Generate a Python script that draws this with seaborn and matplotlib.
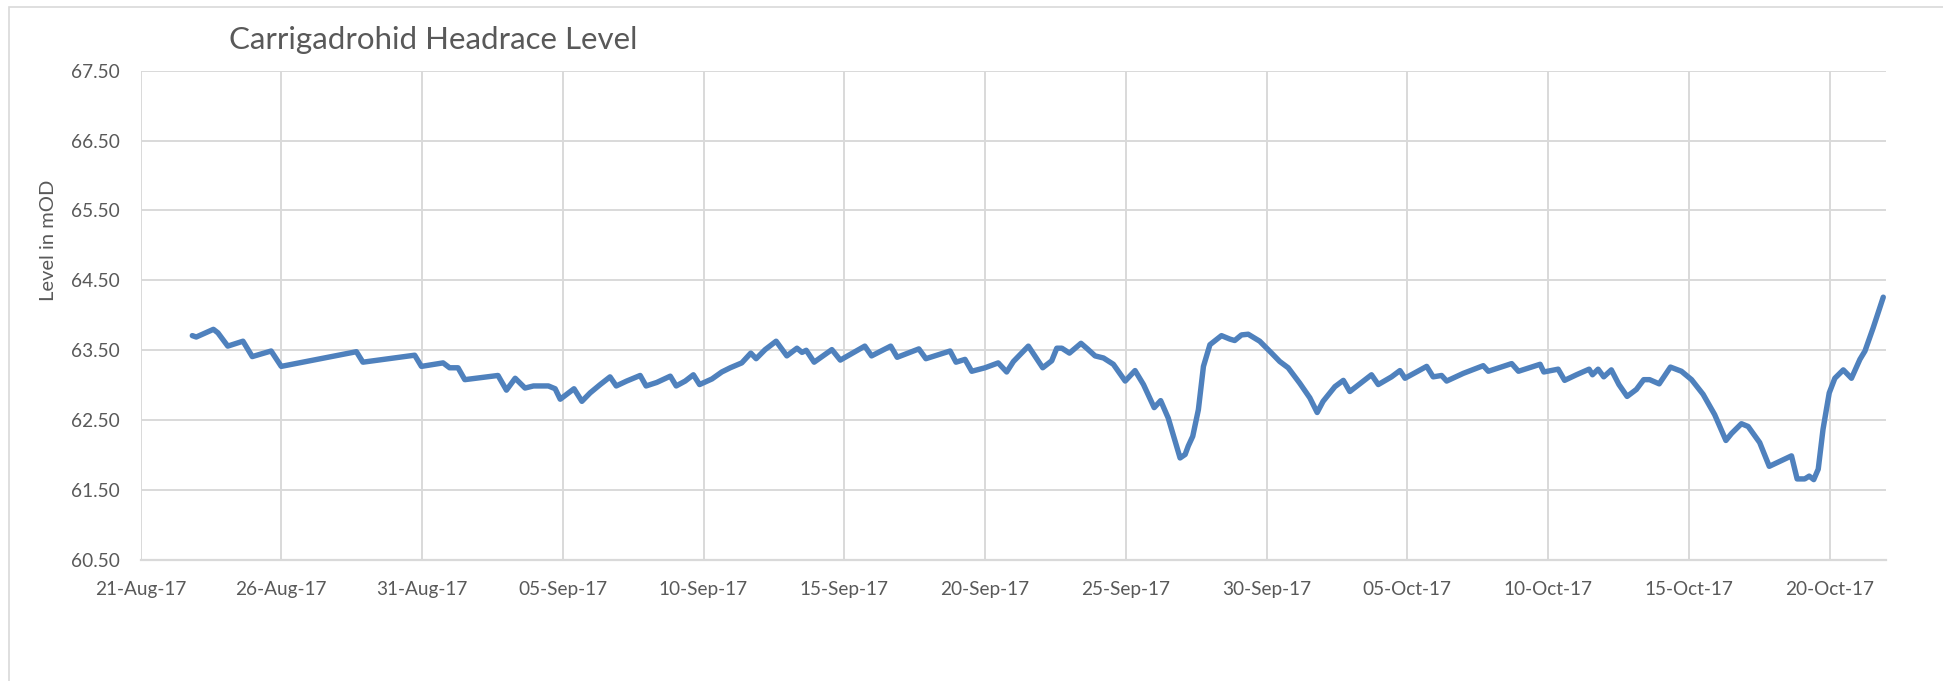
import pandas as pd
import matplotlib
matplotlib.use("Agg")
import matplotlib.pyplot as plt
import matplotlib.dates as mdates
from matplotlib.patches import Rectangle
from matplotlib.ticker import FixedLocator, FormatStrFormatter
import seaborn as sns

# Headrace level readings: time in days after 21-Aug-2017, level in mOD
start_date = pd.Timestamp("2017-08-21")
elapsed_days = [
    1.84, 1.98, 2.59, 2.75, 3.10, 3.64, 3.97, 4.64, 5.00, 7.67, 7.90, 9.74,
    9.98, 10.75, 10.98, 11.28, 11.52, 12.70,
    13.00, 13.31, 13.66, 13.96, 14.49, 14.73, 14.91, 15.40, 15.68, 15.97,
    16.33, 16.68, 16.90, 17.27, 17.75, 17.96, 18.34, 18.82, 19.03, 19.35,
    19.64, 19.86, 20.30, 20.65, 20.95, 21.36, 21.68, 21.87, 22.19, 22.58,
    22.96, 23.32, 23.50, 23.65, 23.93, 24.56, 24.86,
    25.73, 25.97, 26.65, 26.88, 27.65, 27.90, 28.76, 28.97, 29.29, 29.53,
    30.00, 30.47, 30.77, 31.01, 31.54, 32.05, 32.37, 32.55, 32.73, 33.00,
    33.41, 33.64, 33.91, 34.21, 34.56, 34.98, 35.33, 35.63, 36.01, 36.24,
    36.51, 36.93, 37.11, 37.22, 37.38, 37.58, 37.76, 37.99,
    38.40, 38.70, 38.87, 39.11, 39.35, 39.76, 40.18, 40.47, 40.77, 41.18,
    41.54, 41.80, 42.01, 42.43, 42.73, 42.96, 43.73, 43.97, 44.44, 44.74,
    44.92, 45.69, 45.92, 46.22, 46.40, 46.99, 47.70, 47.88, 48.71, 48.95,
    49.72,
    49.85, 50.36, 50.59, 51.01, 51.46, 51.58, 51.78, 51.98, 52.25, 52.52,
    52.81, 53.14, 53.40, 53.61, 53.95, 54.35, 54.74, 55.10, 55.51, 55.92,
    56.32, 56.52, 56.87, 57.11, 57.52, 57.86, 58.23, 58.65, 58.85, 59.12,
    59.28, 59.44, 59.60, 59.77, 59.99, 60.19, 60.49, 60.78, 61.08, 61.26,
    61.55, 61.91,
]
level_mod = [
    63.71, 63.69, 63.80, 63.75, 63.56, 63.63, 63.41, 63.49, 63.27, 63.48, 63.33, 63.43,
    63.27, 63.32, 63.25, 63.25, 63.08, 63.14,
    62.93, 63.10, 62.96, 62.99, 62.99, 62.95, 62.80, 62.95, 62.77, 62.89,
    63.01, 63.12, 62.99, 63.06, 63.14, 62.99, 63.04, 63.13, 62.99, 63.06,
    63.15, 63.01, 63.09, 63.19, 63.25, 63.32, 63.46, 63.38, 63.51, 63.63,
    63.42, 63.53, 63.47, 63.50, 63.33, 63.51, 63.36,
    63.56, 63.42, 63.56, 63.40, 63.52, 63.38, 63.49, 63.33, 63.37, 63.20,
    63.25, 63.32, 63.19, 63.34, 63.56, 63.25, 63.35, 63.53, 63.53, 63.46,
    63.60, 63.52, 63.42, 63.39, 63.30, 63.06, 63.21, 63.01, 62.68, 62.78,
    62.53, 61.96, 62.01, 62.13, 62.27, 62.65, 63.27, 63.58,
    63.71, 63.66, 63.64, 63.72, 63.73, 63.63, 63.46, 63.34, 63.25, 63.03,
    62.82, 62.61, 62.77, 62.98, 63.07, 62.91, 63.15, 63.01, 63.12, 63.21,
    63.10, 63.27, 63.12, 63.14, 63.06, 63.17, 63.28, 63.20, 63.31, 63.20,
    63.30,
    63.19, 63.23, 63.07, 63.15, 63.23, 63.15, 63.23, 63.12, 63.22, 63.01,
    62.84, 62.94, 63.08, 63.08, 63.02, 63.26, 63.20, 63.08, 62.87, 62.58,
    62.21, 62.31, 62.45, 62.41, 62.18, 61.84, 61.91, 61.99, 61.66, 61.66,
    61.70, 61.65, 61.80, 62.37, 62.89, 63.10, 63.22, 63.10, 63.37, 63.49,
    63.82, 64.26,
]

chart_title = "Carrigadrohid Headrace Level"
y_axis_label = "Level in mOD"
y_tick_values = [60.5, 61.5, 62.5, 63.5, 64.5, 65.5, 66.5, 67.5]
x_tick_dates = pd.date_range("2017-08-21", "2017-10-20", freq="5D")
x_range = (pd.Timestamp("2017-08-21"), pd.Timestamp("2017-10-22"))

frame = pd.DataFrame({
    "time": start_date + pd.to_timedelta(elapsed_days, unit="D"),
    "level": level_mod,
})

sns.set_theme(style="white")
plt.rcParams["font.family"] = ["Lato", "DejaVu Sans"]

TEXT = "#595959"
GRID = "#d9d9d9"
LINE = "#4f81bd"

W, H = 1943, 681
fig = plt.figure(figsize=(W / 100, H / 100), dpi=100)
ax = fig.add_axes([140.5 / W, 1 - 560 / H, (1885.8 - 140.5) / W, (560 - 70.7) / H])

sns.lineplot(data=frame, x="time", y="level", ax=ax, color=LINE, linewidth=3.9,
             solid_joinstyle="round", solid_capstyle="round", estimator=None, sort=False)

ax.set_xlim(*x_range)
ax.set_ylim(y_tick_values[0], y_tick_values[-1])
ax.xaxis.set_major_locator(FixedLocator(mdates.date2num(x_tick_dates)))
ax.xaxis.set_major_formatter(mdates.DateFormatter("%d-%b-%y"))
ax.yaxis.set_major_locator(FixedLocator(y_tick_values))
ax.yaxis.set_major_formatter(FormatStrFormatter("%.2f"))

ax.grid(True, color=GRID, linewidth=1.4)
ax.set_axisbelow(True)
for side in ("left", "right", "top"):
    ax.spines[side].set_visible(False)
ax.spines["bottom"].set_color(GRID)
ax.spines["bottom"].set_linewidth(1.6)

ax.tick_params(axis="both", length=0, labelcolor=TEXT, labelsize=13.7)
ax.tick_params(axis="x", pad=15)
ax.tick_params(axis="y", pad=15)
ax.set_xlabel("")
ax.set_ylabel("")

fig.text(48 / W, 1 - 240 / H, y_axis_label, rotation=90, ha="center", va="center",
         color=TEXT, fontsize=14.5)
fig.text(229 / W, 1 - 40 / H, chart_title, ha="left", va="center",
         color=TEXT, fontsize=22.5)

# chart area border (left and top edges fall inside the canvas)
fig.add_artist(Rectangle((9 / W, -0.2), 1.5, 1.2 - 7 / H, transform=fig.transFigure,
                         fill=False, edgecolor=GRID, linewidth=1.2))

fig.savefig("out.png", dpi=100, facecolor="white")
